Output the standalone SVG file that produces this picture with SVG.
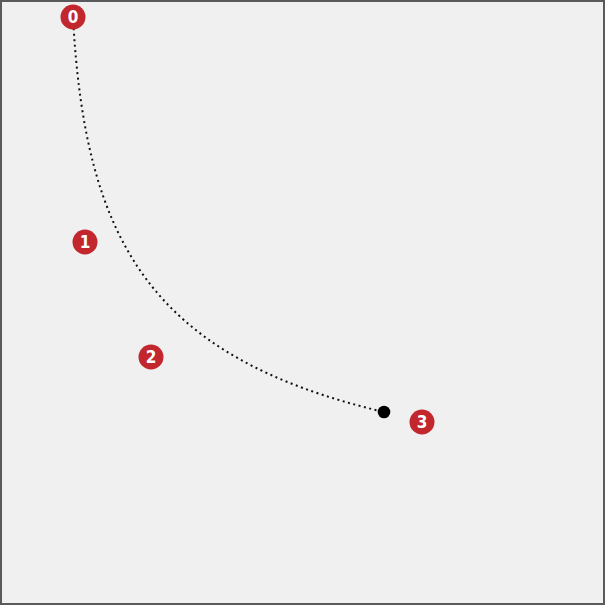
<svg xmlns="http://www.w3.org/2000/svg" width="605" height="605" viewBox="0 0 605 605">
<style>
.lbl circle{fill:#c1272d}
.lbl text{fill:#fff;font-family:"DejaVu Sans Condensed","DejaVu Sans",sans-serif;font-stretch:condensed;font-weight:bold;font-size:17px;text-anchor:middle}
.curve{fill:none;stroke:#111;stroke-width:2;stroke-dasharray:2 3.5}
</style>
<rect x="1" y="1" width="603" height="603" fill="#f0f0f0" stroke="#5a5a5a" stroke-width="2"/>
<g id="connectors">
<path class="curve" d="M73,17 C85,242 151,357 384,412"/>
<circle cx="384" cy="412" r="6.3" fill="#000"/>
</g>
<g id="p0" class="lbl"><circle cx="73" cy="17" r="12.5"/><text x="73" y="23">0</text></g>
<g id="p1" class="lbl"><circle cx="85" cy="242" r="12.5"/><text x="85" y="248">1</text></g>
<g id="p2" class="lbl"><circle cx="151" cy="357" r="12.5"/><text x="151" y="363">2</text></g>
<g id="p3" class="lbl"><circle cx="422" cy="422" r="12.5"/><text x="422" y="428">3</text></g>
</svg>
